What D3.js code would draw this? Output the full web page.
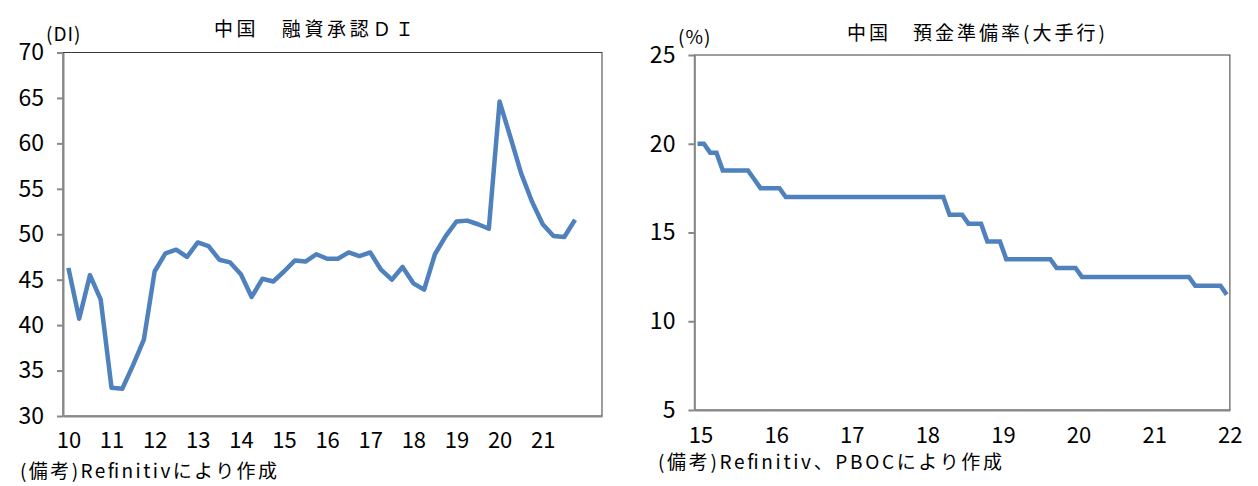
<!DOCTYPE html>
<html>
<head>
<meta charset="utf-8">
<script src="https://cdn.jsdelivr.net/npm/d3@7"></script>
<style>
  body { margin: 0; background: #fff; }
  svg { display: block; }
  .num { font-family: "Liberation Sans Narrow", "Noto Sans CJK JP", sans-serif; }
  .jp { font-family: "Noto Sans CJK JP", sans-serif; }
</style>
</head>
<body>
<svg id="chart" width="1258" height="486"></svg>
<script>
// 融資承認DI（四半期、2010Q1〜2021Q4）
const diYearLabels = ["10", "11", "12", "13", "14", "15", "16", "17", "18", "19", "20", "21"];
const diValues = [
  46.3, 40.7, 45.5, 42.8, 33.1, 33.0, 35.6, 38.4, 45.9, 47.9,
  48.3, 47.5, 49.1, 48.7, 47.2, 46.9, 45.6, 43.1, 45.1, 44.8,
  45.9, 47.1, 47.0, 47.8, 47.3, 47.3, 48.0, 47.6, 48.0, 46.1,
  45.0, 46.4, 44.6, 43.9, 47.8, 49.8, 51.4, 51.5, 51.1, 50.6,
  64.6, 60.7, 56.7, 53.6, 51.1, 49.8, 49.7, 51.6
];
const diYTicks = [30, 35, 40, 45, 50, 55, 60, 65, 70];

// 預金準備率（大手行、月次、2015/1〜2022/1）
const rrYearLabels = ["15", "16", "17", "18", "19", "20", "21", "22"];
const rrValues = [
  20, 20, 19.5, 19.5, 18.5, 18.5, 18.5, 18.5, 18.5, 18, 17.5, 17.5,
  17.5, 17.5, 17, 17, 17, 17, 17, 17, 17, 17, 17, 17,
  17, 17, 17, 17, 17, 17, 17, 17, 17, 17, 17, 17,
  17, 17, 17, 17, 16, 16, 16, 15.5, 15.5, 15.5, 14.5, 14.5,
  14.5, 13.5, 13.5, 13.5, 13.5, 13.5, 13.5, 13.5, 13.5, 13, 13, 13,
  13, 12.5, 12.5, 12.5, 12.5, 12.5, 12.5, 12.5, 12.5, 12.5, 12.5, 12.5,
  12.5, 12.5, 12.5, 12.5, 12.5, 12.5, 12.5, 12, 12, 12, 12, 12,
  11.5
];
const rrYTicks = [5, 10, 15, 20, 25];

const svg = d3.select("#chart");
const lineColor = "#4f81bd";

function drawChart(cfg) {
  const g = svg.append("g");

  const x = d3.scaleLinear().domain([0, cfg.nCats]).range([cfg.left, cfg.right]);
  const y = d3.scaleLinear().domain(cfg.yDomain).range([cfg.bottom, cfg.top]);

  // 枠
  g.append("rect")
    .attr("x", cfg.left).attr("y", cfg.top)
    .attr("width", cfg.right - cfg.left).attr("height", cfg.bottom - cfg.top)
    .attr("fill", "none").attr("stroke", "#3a3a3a").attr("stroke-width", 1);

  // Y軸
  const yAxis = g.append("g")
    .attr("transform", `translate(${cfg.left},0)`)
    .call(d3.axisLeft(y).tickValues(cfg.yTicks).tickSize(6).tickPadding(13).tickSizeOuter(0));
  yAxis.select(".domain").attr("stroke", "#888").attr("stroke-width", 2);
  yAxis.selectAll(".tick line").attr("stroke", "#888").attr("stroke-width", 2);
  yAxis.selectAll("text")
    .attr("class", "num")
    .attr("font-size", 23)
    .attr("fill", "#000");

  // X軸
  const tickIdx = cfg.xLabels.map((d, i) => i * cfg.perYear + 0.5);
  const xAxis = g.append("g")
    .attr("transform", `translate(0,${cfg.bottom})`)
    .call(d3.axisBottom(x).tickValues(tickIdx).tickSize(0).tickPadding(cfg.xPad)
      .tickFormat((d, i) => cfg.xLabels[i]));
  xAxis.select(".domain").attr("stroke", "#888").attr("stroke-width", 2);
  xAxis.selectAll("text")
    .attr("class", "num")
    .attr("font-size", 22)
    .attr("dx", cfg.xDx)
    .attr("fill", "#000");

  // 折れ線
  const line = d3.line()
    .x((d, i) => x(i + 0.5))
    .y(d => y(d));
  g.append("path")
    .datum(cfg.values)
    .attr("d", line)
    .attr("fill", "none")
    .attr("stroke", lineColor)
    .attr("stroke-width", 4.5)
    .attr("stroke-linejoin", cfg.join)
    .attr("stroke-linecap", "butt");

  // タイトル
  g.append("text")
    .attr("class", "jp")
    .attr("x", cfg.titleX).attr("y", cfg.titleY)
    .attr("font-size", 19)
    .attr("textLength", cfg.titleW)
    .text(cfg.title);

  // 単位
  g.append("text")
    .attr("class", "num")
    .attr("x", cfg.unitX).attr("y", cfg.unitY)
    .attr("font-size", 19)
    .attr("letter-spacing", 1)
    .text(cfg.unit);

  // 備考
  g.append("text")
    .attr("class", "jp")
    .attr("x", cfg.noteX).attr("y", cfg.noteY)
    .attr("font-size", 19)
    .attr("textLength", cfg.noteW)
    .text(cfg.note);
}

drawChart({
  nCats: 50, perYear: 4,
  left: 63, right: 602, top: 52.5, bottom: 416,
  yDomain: [30, 70], yTicks: diYTicks,
  xLabels: diYearLabels, xPad: 16, xDx: 0,
  values: diValues, join: "round",
  title: "中国　融資承認ＤＩ", titleX: 214, titleY: 36, titleW: 200,
  unit: "(DI)", unitX: 46, unitY: 41,
  note: "(備考)Refinitivにより作成", noteX: 20, noteY: 478, noteW: 257
});

drawChart({
  nCats: 85, perYear: 12,
  left: 694.4, right: 1229.9, top: 55, bottom: 410,
  yDomain: [5, 25], yTicks: rrYTicks,
  xLabels: rrYearLabels, xPad: 17, xDx: 3,
  values: rrValues, join: "miter",
  title: "中国　預金準備率(大手行)", titleX: 847, titleY: 40, titleW: 258,
  unit: "(%)", unitX: 678, unitY: 44,
  note: "(備考)Refinitiv、PBOCにより作成", noteX: 658, noteY: 469, noteW: 344
});
</script>
</body>
</html>
